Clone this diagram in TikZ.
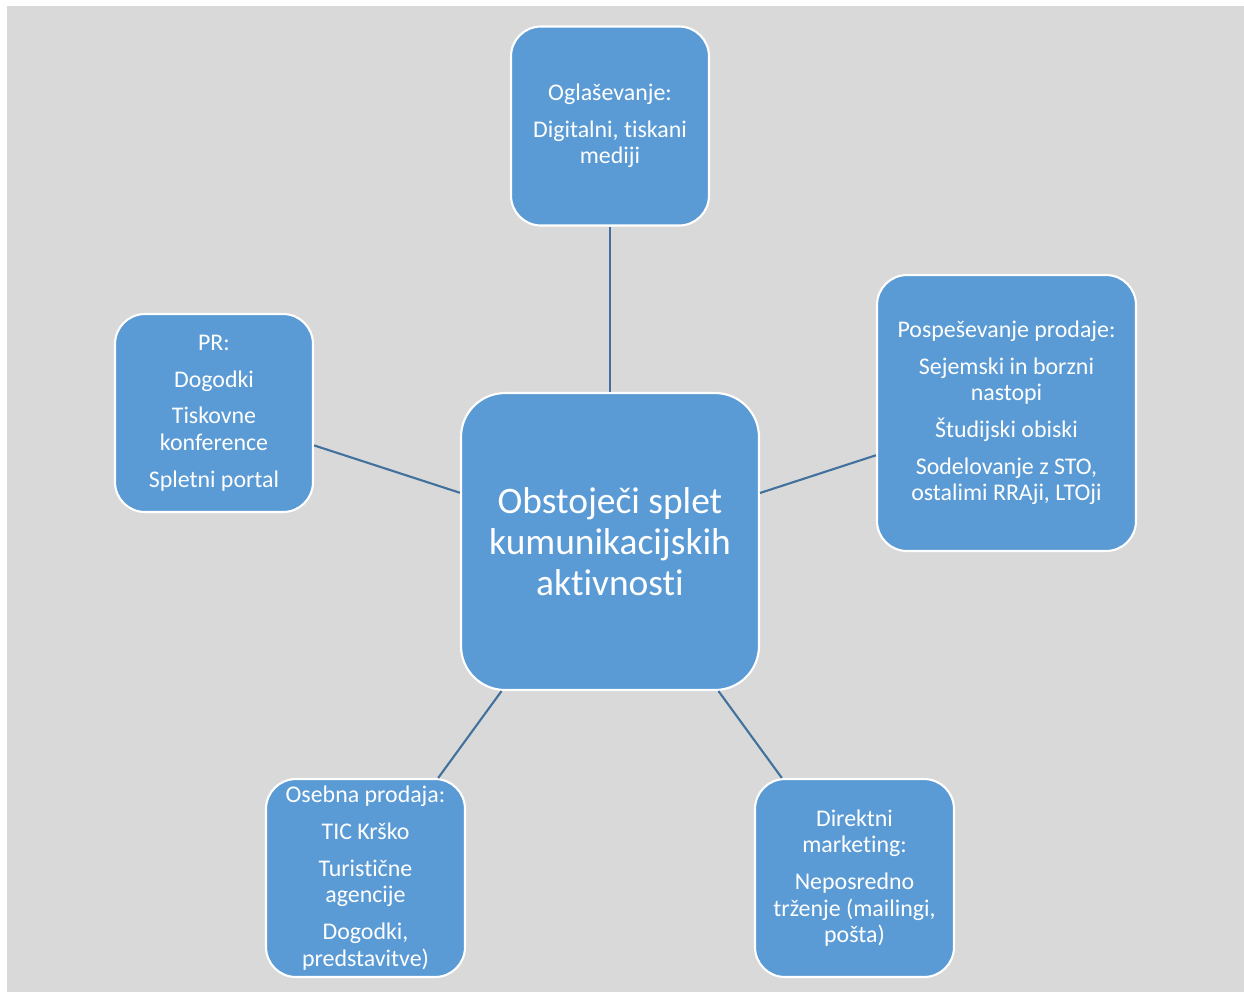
\documentclass[tikz,border=0pt]{standalone}
\usepackage{fontspec}
\setmainfont{Carlito}[Ligatures=CommonOff]
\usetikzlibrary{positioning}
\definecolor{boxblue}{HTML}{5B9BD5}
\definecolor{linkblue}{HTML}{41719C}
\definecolor{bggray}{HTML}{D9D9D9}

\begin{document}
\begin{tikzpicture}[x=0.02cm,y=-0.02cm,
  item/.style={draw=white,line width=1.2pt,fill=boxblue,text=white,rounded corners=17pt,
    align=center,inner sep=0pt,font=\fontsize{13.6}{15.1}\selectfont},
  hubbox/.style={item,rounded corners=25pt,font=\fontsize{21.3}{23.3}\selectfont},
  link/.style={draw=linkblue,line width=1.2pt}]
  \useasboundingbox (0,0) rectangle (1244,992);
  \fill[bggray] (7,6) rectangle (1244,992);

  \node[hubbox,minimum width=5.96cm,minimum height=5.94cm] (hub) at (610,541.5)
    {Obstoječi splet\\kumunikacijskih\\aktivnosti};
  \node[item,minimum width=3.96cm,minimum height=3.98cm] (ads) at (610,126)
    {Oglaševanje:\\[5.8pt]Digitalni, tiskani\\mediji};
  \node[item,minimum width=5.18cm,minimum height=5.52cm] (promo) at (1006.5,413)
    {Pospeševanje prodaje:\\[5.8pt]Sejemski in borzni\\nastopi\\[5.8pt]Študijski obiski\\[5.8pt]Sodelovanje z STO,\\ostalimi RRAji, LTOji};
  \node[item,minimum width=3.96cm,minimum height=3.96cm] (pr) at (214,413)
    {PR:\\[5.8pt]Dogodki\\[5.8pt]Tiskovne\\konference\\[5.8pt]Spletni portal};
  \node[item,minimum width=3.98cm,minimum height=3.96cm] (sales) at (365.5,878)
    {Osebna prodaja:\\[5.8pt]TIC Krško\\[5.8pt]Turistične\\agencije\\[5.8pt]Dogodki,\\predstavitve)};
  \node[item,minimum width=3.98cm,minimum height=3.96cm] (direct) at (854.5,878)
    {Direktni\\marketing:\\[5.8pt]Neposredno\\trženje (mailingi,\\pošta)};

  \draw[link] (hub) -- (ads);
  \draw[link] (hub) -- (promo);
  \draw[link] (hub) -- (pr);
  \draw[link] (hub) -- (sales);
  \draw[link] (hub) -- (direct);
\end{tikzpicture}
\end{document}
